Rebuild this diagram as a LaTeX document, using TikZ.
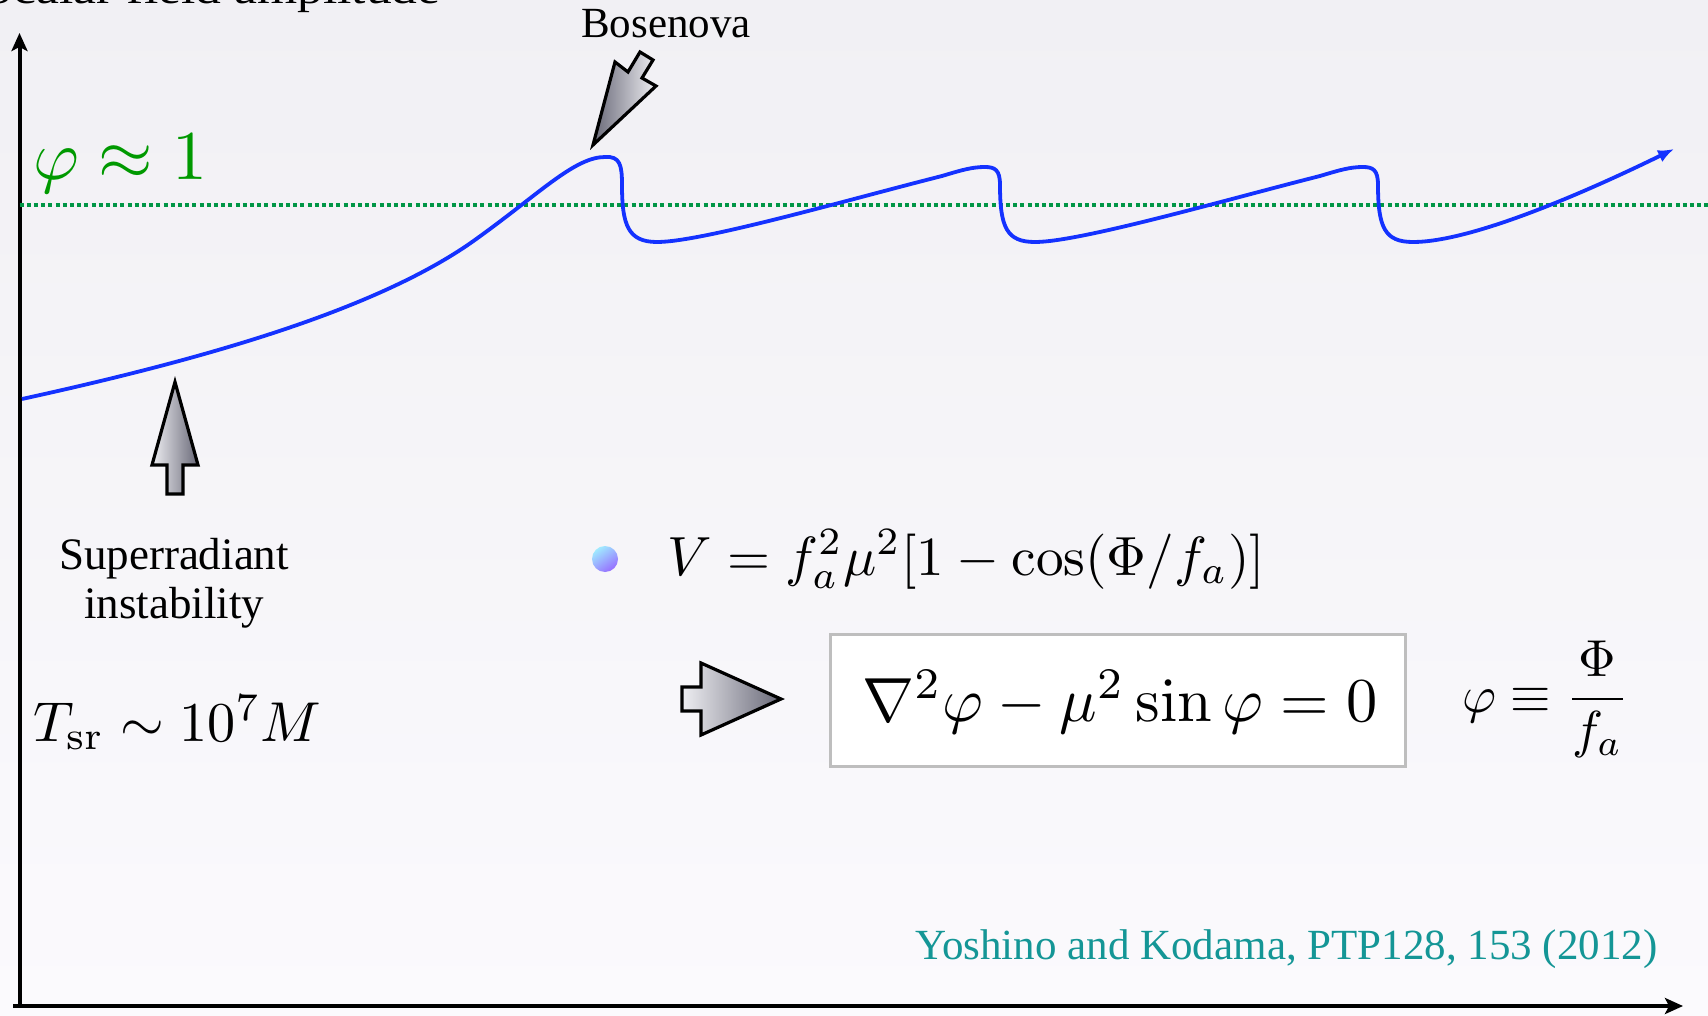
\documentclass[tikz,border=0pt]{standalone}
\usepackage[no-math]{fontspec}
\setmainfont{Liberation Serif}
\usetikzlibrary{arrows.meta}
\definecolor{bgtop}{RGB}{241,240,244}
\definecolor{bgbot}{RGB}{251,250,253}
\definecolor{curveblue}{RGB}{20,50,255}
\definecolor{phigreen}{RGB}{0,153,0}
\definecolor{dotgreen}{RGB}{0,150,70}
\definecolor{citeteal}{RGB}{20,150,150}
\definecolor{arrdark}{RGB}{105,105,120}
\definecolor{arrlight}{RGB}{238,238,242}
\definecolor{boxgray}{RGB}{190,190,190}
\definecolor{ballcyan}{RGB}{160,235,255}
\definecolor{ballviolet}{RGB}{150,110,255}
\newcommand{\mysz}[2]{\scalebox{#1}{#2}}
\tikzset{
 axis/.style={line width=2pt, -{Stealth[length=9pt,width=8pt,inset=2pt]}},
 fatarrow/.style={draw=black, line width=1.6pt, line join=miter},
 lbl/.style={inner sep=0pt, font=\fontsize{21.5}{25}\selectfont},
 bigmath/.style={inner sep=0pt, font=\fontsize{10}{12}\selectfont},
}
\begin{document}
\begin{tikzpicture}[x=0.5pt,y=-0.5pt]
\useasboundingbox (0,0) rectangle (1708,1016);
\shade[top color=bgtop,bottom color=bgbot] (0,0) rectangle (1708,1016);
% cut-off axis label
\node[lbl, anchor=base east] (ylabel) at (441,4) {\scalebox{1.2}[1]{Scalar field amplitude}};
% axes
\coordinate (O) at (19.5,1006);
\coordinate (Ytop) at (19.5,33);
\coordinate (Xstart) at (13,1006);
\coordinate (Xend) at (1683,1006);
\draw[axis] (O) -- (Ytop);
\draw[axis] (Xstart) -- (Xend);
% phi = 1 level
\coordinate (dl) at (19.5,205);
\coordinate (dr) at (1708,205);
\draw[dotgreen, line width=1.6pt, dash pattern=on 2pt off 1.6pt] (dl) -- (dr);
\node[bigmath, anchor=base west, text=phigreen] (phione) at (33,180) {\mysz{3.5}{$\varphi\approx 1$}};
% amplitude curve
\draw[curveblue, line width=1.9pt, -{Latex[length=8pt,width=6.5pt]}]
 (22,399) .. controls (200,360) and (380,310) .. (479,237)
 .. controls (540,193) and (575,157) .. (605,157)
 .. controls (620,156) and (622,165) .. (622,185)
 .. controls (622,225) and (628,242) .. (657,242)
 .. controls (702,242) and (847,200) .. (942,176)
 .. controls (962,170) and (972,167) .. (985,167)
 .. controls (995,167) and (1000,170) .. (1000,185)
 .. controls (1000,228) and (1007,242) .. (1035,242)
 .. controls (1080,242) and (1225,200) .. (1320,176)
 .. controls (1340,170) and (1350,167) .. (1363,167)
 .. controls (1373,167) and (1378,170) .. (1378,185)
 .. controls (1378,228) and (1385,242) .. (1413,242)
 .. controls (1470,242) and (1580,195) .. (1674,149);
% Bosenova
\node[lbl, anchor=base] (bose) at (666,38) {Bosenova};
\draw[fatarrow, left color=arrdark, right color=arrlight]
 (593,145) -- (615,62) -- (628,72) -- (640,52) -- (653,60) -- (642,78) -- (656,86) -- cycle;
% superradiant
\draw[fatarrow, left color=arrlight, right color=arrdark]
 (175,382) -- (198,465) -- (183,465) -- (183,494) -- (167,494) -- (167,465) -- (152,465) -- cycle;
\node[lbl, anchor=base, font=\fontsize{22.5}{26}\selectfont] (sr1) at (174,569) {Superradiant};
\node[lbl, anchor=base, font=\fontsize{22.5}{26}\selectfont] (sr2) at (174,618) {instability};
\node[bigmath, anchor=base west] (tsr) at (33,741) {\mysz{2.81}{$T_{\rm sr}\sim10^7M$}};
% potential
\shade[top color=ballcyan, bottom color=ballviolet, shading angle=35] (605,559) circle (13);
\node[bigmath, anchor=base west] (Veq) at (667,575) {\mysz{2.76}{$V=f_a^2\mu^2[1-\cos(\Phi/f_a)]$}};
% right arrow and box
\draw[fatarrow, left color=arrlight, right color=arrdark]
 (682,687) -- (701,687) -- (701,663) -- (781,699) -- (701,735) -- (701,711) -- (682,711) -- cycle;
\node[draw=boxgray, line width=1.5pt, fill=white, minimum width=287.5pt, minimum height=66pt, inner sep=0pt] (eqbox) at (1117.5,700) {};
\node[bigmath, anchor=base] (waveeq) at (1120,721) {\mysz{3.12}{$\nabla^2\varphi-\mu^2\sin\varphi=0$}};
\node[bigmath, anchor=base west] (phidef) at (1462,712) {\mysz{2.6}{$\varphi\equiv\displaystyle\frac{\Phi}{f_a}$}};
% citation
\node[lbl, anchor=base east, text=citeteal] (cite) at (1658,959) {Yoshino and Kodama, PTP128, 153 (2012)};
\end{tikzpicture}
\end{document}
